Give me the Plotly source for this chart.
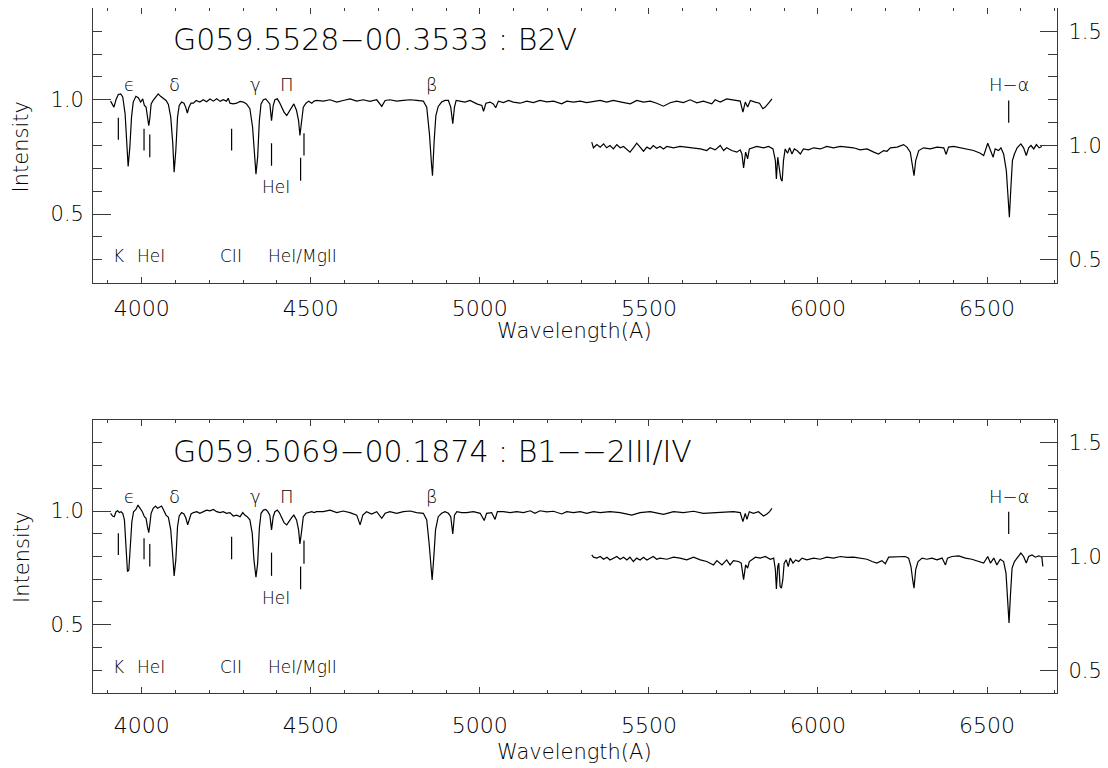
import plotly.graph_objects as go

# ---------------- data ----------------
# Top star: blue spectrum (left axis)
top_blue_wl = [3908, 3914, 3918, 3924, 3931, 3938, 3944, 3951, 3955, 3960,
               3965, 3970, 3975, 3983, 3990, 3997, 4003, 4008, 4013, 4017,
               4021, 4024, 4028, 4034, 4041, 4049, 4056, 4064, 4072, 4079,
               4086, 4092, 4096, 4101, 4106, 4111, 4118, 4125, 4130, 4135,
               4140, 4146, 4153, 4161, 4172, 4182, 4192, 4202, 4212, 4222,
               4232, 4241, 4251, 4256, 4261, 4271, 4281, 4291, 4301, 4310,
               4320, 4328, 4333, 4338, 4343, 4348, 4353, 4360, 4367, 4373,
               4379, 4384, 4389, 4394, 4401, 4407, 4414, 4421, 4429, 4437,
               4444, 4450, 4458, 4464, 4468, 4474, 4478, 4486, 4494, 4503,
               4510, 4517, 4537, 4557, 4577, 4596, 4616, 4636, 4655, 4675,
               4695, 4710, 4720, 4734, 4754, 4774, 4794, 4813, 4833, 4843,
               4851, 4857, 4860, 4865, 4870, 4877, 4887, 4897, 4907, 4914,
               4920, 4925, 4930, 4941, 4956, 4971, 4991, 5006, 5011, 5018,
               5030, 5040, 5047, 5055, 5070, 5085, 5099, 5119, 5139, 5158,
               5178, 5198, 5218, 5242, 5257, 5277, 5297, 5316, 5336, 5356,
               5375, 5395, 5415, 5445, 5464, 5484, 5504, 5523, 5543, 5563,
               5582, 5602, 5622, 5642, 5661, 5686, 5696, 5711, 5730, 5750,
               5770, 5778, 5785, 5792, 5800, 5814, 5827, 5837, 5844, 5854,
               5864]
top_blue_int = [0.994, 0.975, 0.968, 1.000, 1.023, 1.026, 1.012, 0.939, 0.807, 0.708,
                0.792, 0.924, 0.990, 1.015, 1.009, 0.990, 1.004, 0.975, 0.968, 0.931,
                0.887, 0.917, 0.982, 0.997, 1.009, 1.026, 1.015, 1.004, 0.997, 0.980,
                0.924, 0.807, 0.683, 0.778, 0.924, 0.975, 0.990, 0.985, 0.968, 0.942,
                0.968, 0.985, 0.985, 0.997, 0.990, 1.000, 0.991, 1.003, 0.994, 1.004,
                0.993, 1.000, 0.994, 1.007, 0.985, 0.982, 0.985, 0.993, 0.990, 0.982,
                0.961, 0.880, 0.749, 0.675, 0.749, 0.909, 0.982, 1.000, 1.004, 0.994,
                0.982, 0.909, 0.975, 1.000, 1.004, 0.990, 0.968, 0.946, 0.931, 0.953,
                0.968, 0.982, 0.953, 0.909, 0.844, 0.917, 0.968, 0.985, 0.994, 0.985,
                0.994, 0.997, 0.994, 1.000, 0.990, 0.997, 1.004, 0.994, 1.000, 0.993,
                1.000, 0.971, 0.997, 1.000, 0.994, 0.997, 1.000, 0.997, 0.994, 0.968,
                0.851, 0.720, 0.668, 0.822, 0.931, 0.971, 0.990, 0.997, 0.997, 0.968,
                0.895, 0.968, 0.997, 0.994, 0.990, 0.997, 0.982, 0.975, 0.950, 0.985,
                0.990, 0.982, 0.965, 0.994, 0.988, 0.997, 0.990, 0.985, 0.994, 0.988,
                0.997, 0.991, 0.994, 0.982, 0.994, 0.990, 0.994, 0.988, 0.994, 0.997,
                0.990, 0.997, 0.991, 0.982, 0.997, 0.990, 0.994, 0.985, 0.972, 0.987,
                0.994, 0.988, 1.000, 0.987, 0.994, 0.982, 1.000, 0.990, 1.004, 1.000,
                0.994, 0.946, 0.990, 0.968, 0.997, 0.990, 0.985, 0.961, 0.968, 0.985,
                1.004]

# Top star: red spectrum (right axis)
top_red_wl = [5331, 5336, 5346, 5356, 5366, 5375, 5385, 5395, 5405, 5415,
              5425, 5435, 5444, 5454, 5464, 5474, 5484, 5494, 5504, 5513,
              5523, 5533, 5543, 5553, 5573, 5592, 5612, 5632, 5652, 5671,
              5681, 5696, 5711, 5721, 5730, 5745, 5760, 5770, 5775, 5780,
              5786, 5792, 5797, 5819, 5839, 5854, 5867, 5874, 5877, 5881,
              5886, 5890, 5894, 5898, 5903, 5910, 5916, 5923, 5930, 5938,
              5948, 5957, 5972, 5987, 6007, 6026, 6046, 6066, 6086, 6105,
              6125, 6145, 6165, 6179, 6194, 6204, 6214, 6234, 6253, 6263,
              6273, 6279, 6284, 6289, 6298, 6312, 6332, 6352, 6372, 6379,
              6386, 6401, 6421, 6441, 6460, 6480, 6490, 6502, 6510, 6518,
              6524, 6534, 6541, 6549, 6557, 6562, 6566, 6570, 6575, 6581,
              6589, 6600, 6608, 6616, 6623, 6630, 6638, 6646, 6654, 6662]
top_red_int = [1.015, 0.990, 1.004, 0.993, 1.007, 0.990, 1.000, 0.985, 1.004, 0.990,
               0.996, 0.981, 0.971, 0.990, 1.010, 0.993, 0.975, 0.993, 0.985, 1.000,
               0.988, 0.996, 0.985, 0.996, 0.990, 0.996, 0.993, 0.990, 0.985, 0.978,
               0.990, 0.981, 1.000, 0.978, 0.990, 0.978, 0.971, 0.981, 0.963, 0.902,
               0.971, 0.942, 0.985, 0.996, 0.990, 0.996, 0.985, 0.934, 0.854, 0.949,
               0.905, 0.854, 0.844, 0.934, 0.985, 0.966, 0.990, 0.963, 0.985, 0.978,
               0.963, 0.985, 0.981, 0.990, 0.985, 0.996, 0.990, 0.996, 0.993, 0.990,
               0.981, 0.985, 0.971, 0.963, 0.978, 0.975, 0.990, 0.993, 1.004, 0.993,
               0.971, 0.920, 0.868, 0.934, 0.978, 0.990, 0.985, 0.993, 0.990, 0.961,
               0.993, 0.996, 0.990, 0.985, 0.978, 0.966, 0.956, 1.010, 0.978, 0.949,
               0.985, 0.978, 0.990, 0.963, 0.890, 0.759, 0.686, 0.803, 0.934, 0.963,
               0.990, 1.007, 0.990, 0.956, 0.990, 1.000, 0.985, 1.004, 0.990, 0.996]

# Bottom star: blue spectrum (left axis)
bot_blue_wl = [3908, 3914, 3919, 3924, 3929, 3934, 3939, 3944, 3949, 3953,
               3958, 3962, 3966, 3971, 3976, 3983, 3989, 3995, 4002, 4008,
               4013, 4017, 4021, 4024, 4028, 4034, 4041, 4047, 4054, 4059,
               4064, 4072, 4079, 4086, 4092, 4096, 4101, 4106, 4111, 4118,
               4125, 4131, 4136, 4141, 4146, 4153, 4163, 4172, 4182, 4192,
               4202, 4212, 4222, 4232, 4241, 4251, 4261, 4271, 4281, 4291,
               4299, 4305, 4312, 4320, 4327, 4332, 4338, 4343, 4348, 4353,
               4360, 4367, 4373, 4379, 4384, 4389, 4394, 4401, 4407, 4414,
               4421, 4429, 4437, 4444, 4450, 4458, 4464, 4468, 4474, 4478,
               4486, 4494, 4503, 4510, 4517, 4537, 4557, 4577, 4596, 4616,
               4636, 4646, 4654, 4665, 4680, 4695, 4710, 4720, 4734, 4754,
               4774, 4794, 4813, 4833, 4843, 4850, 4855, 4859, 4864, 4869,
               4877, 4887, 4897, 4907, 4914, 4920, 4925, 4932, 4946, 4961,
               4981, 5001, 5013, 5020, 5035, 5045, 5052, 5070, 5090, 5109,
               5129, 5149, 5163, 5178, 5198, 5218, 5242, 5257, 5277, 5297,
               5316, 5336, 5356, 5385, 5415, 5449, 5474, 5504, 5543, 5573,
               5602, 5632, 5661, 5691, 5721, 5750, 5770, 5778, 5785, 5790,
               5797, 5809, 5824, 5839, 5849, 5857, 5864]
bot_blue_int = [0.990, 0.978, 0.975, 0.997, 1.001, 0.993, 0.997, 0.990, 0.961, 0.844,
                0.734, 0.741, 0.844, 0.953, 0.997, 1.007, 1.026, 1.012, 0.997, 0.975,
                0.968, 0.931, 0.905, 0.939, 0.990, 1.012, 1.022, 1.012, 1.019, 1.022,
                1.007, 0.982, 0.972, 0.917, 0.800, 0.715, 0.785, 0.931, 0.978, 0.993,
                0.987, 0.968, 0.939, 0.963, 0.987, 0.993, 0.997, 0.990, 0.997, 1.004,
                1.001, 1.007, 0.997, 0.993, 0.997, 0.990, 0.993, 0.978, 0.982, 0.975,
                0.993, 0.982, 0.975, 0.961, 0.902, 0.785, 0.709, 0.770, 0.924, 0.990,
                1.004, 1.007, 0.997, 0.982, 0.917, 0.975, 0.997, 1.004, 0.993, 0.968,
                0.949, 0.939, 0.958, 0.972, 0.982, 0.961, 0.917, 0.855, 0.924, 0.975,
                0.990, 0.993, 0.997, 0.993, 0.997, 0.997, 1.004, 0.993, 1.000, 0.993,
                0.982, 0.939, 0.982, 0.997, 0.987, 0.997, 0.968, 0.990, 0.997, 0.990,
                0.997, 1.000, 0.993, 0.990, 0.961, 0.858, 0.756, 0.697, 0.800, 0.917,
                0.975, 0.990, 0.997, 0.990, 0.975, 0.899, 0.982, 0.997, 0.993, 0.993,
                0.997, 0.990, 0.958, 0.990, 0.993, 0.963, 0.997, 0.997, 0.993, 0.997,
                0.993, 1.001, 0.990, 1.001, 0.996, 0.999, 0.987, 0.997, 0.993, 0.997,
                0.990, 0.997, 0.993, 0.997, 0.993, 0.982, 0.993, 0.997, 0.985, 0.997,
                0.993, 0.999, 0.990, 0.993, 0.997, 0.997, 0.993, 0.953, 0.990, 0.963,
                0.997, 0.990, 0.997, 0.978, 0.987, 0.997, 1.012]

# Bottom star: red spectrum (right axis)
bot_red_wl = [5331, 5336, 5346, 5356, 5366, 5376, 5385, 5395, 5405, 5415,
              5425, 5435, 5444, 5454, 5464, 5474, 5484, 5494, 5504, 5513,
              5523, 5533, 5553, 5573, 5592, 5612, 5632, 5652, 5671, 5691,
              5701, 5716, 5730, 5740, 5750, 5765, 5773, 5780, 5786, 5792,
              5797, 5815, 5829, 5844, 5859, 5869, 5874, 5877, 5881, 5884,
              5888, 5892, 5896, 5900, 5906, 5912, 5918, 5926, 5934, 5943,
              5953, 5967, 5987, 6007, 6026, 6046, 6066, 6086, 6105, 6125,
              6145, 6160, 6174, 6189, 6199, 6209, 6234, 6258, 6268, 6275,
              6280, 6284, 6289, 6296, 6308, 6322, 6337, 6352, 6367, 6377,
              6383, 6396, 6416, 6436, 6455, 6475, 6490, 6502, 6510, 6520,
              6529, 6539, 6549, 6556, 6561, 6565, 6569, 6574, 6581, 6589,
              6600, 6608, 6616, 6623, 6633, 6643, 6653, 6662, 6665]
bot_red_int = [1.007, 0.997, 0.993, 1.000, 0.988, 0.997, 0.985, 0.993, 1.000, 0.988,
               0.997, 0.985, 0.997, 0.978, 0.993, 0.985, 0.997, 0.985, 0.993, 1.000,
               0.988, 0.993, 0.988, 0.997, 0.993, 0.985, 0.997, 0.985, 0.978, 0.963,
               0.982, 0.963, 0.985, 0.963, 0.982, 0.978, 0.971, 0.898, 0.963, 0.949,
               0.978, 0.997, 0.993, 1.000, 0.988, 0.993, 0.942, 0.857, 0.956, 0.971,
               0.868, 0.861, 0.898, 0.971, 0.985, 0.956, 0.993, 0.971, 0.985, 0.978,
               0.993, 0.985, 0.993, 0.988, 0.997, 0.993, 1.000, 0.996, 0.997, 0.993,
               0.988, 0.978, 0.971, 0.982, 0.968, 0.997, 1.000, 1.000, 0.993, 0.956,
               0.898, 0.861, 0.942, 0.978, 0.993, 0.988, 0.993, 0.985, 0.993, 0.963,
               0.993, 1.000, 1.003, 0.993, 0.988, 0.978, 0.971, 1.000, 0.971, 0.993,
               0.963, 0.988, 0.978, 0.927, 0.810, 0.708, 0.825, 0.949, 0.978, 0.993,
               1.015, 1.000, 0.971, 1.000, 1.007, 0.997, 1.003, 0.997, 0.956]

# Line identification marks (wavelength, top and bottom of the tick, left axis units)
mark_wl = [3931, 4007, 4024, 4266, 4384, 4470, 4480, 6564]
top_mark_hi = [0.921, 0.873, 0.848, 0.873, 0.810, 0.746, 0.854, 0.997]
top_mark_lo = [0.825, 0.778, 0.749, 0.778, 0.712, 0.646, 0.756, 0.899]
bot_mark_hi = [0.902, 0.880, 0.855, 0.887, 0.817, 0.756, 0.870, 0.997]
bot_mark_lo = [0.807, 0.788, 0.756, 0.788, 0.715, 0.656, 0.768, 0.899]

# Balmer labels
balmer_txt = ["ϵ", "δ", "γ", "Π", "β", "H−α"]
balmer_wl = [3963, 4098, 4337, 4429, 4858, 6564]
balmer_y = 1.065

# Element labels
elem_txt = ["K", "HeI", "CII", "HeI/MgII", "HeI"]
elem_wl = [3931, 4027, 4263, 4476, 4397]
elem_y = [0.315, 0.315, 0.315, 0.315, 0.619]

titles = ["G059.5528−00.3533 : B2V", "G059.5069−00.1874 : B1−−2III/IV"]
title_wl = 4088
title_y = 1.262

# ---------------- figure ----------------
FONT = "DejaVu Sans"
W = 200
AX = "#3a3a3a"
XR = [3857, 6707]
# the page adds an 8 px body margin, so the domains are shifted to compensate
XD = [0.0770, 0.9468]
YD_TOP = [0.6423, 0.9996]
YD_BOT = [0.1081, 0.4635]

fig = go.Figure()


def marks(hi, lo):
    xs, ys = [], []
    for w, a, b in zip(mark_wl, hi, lo):
        xs += [w, w, None]
        ys += [a, b, None]
    return xs, ys


panels = [
    ("x", "y", "y2", top_blue_wl, top_blue_int, top_red_wl, top_red_int, top_mark_hi, top_mark_lo),
    ("x2", "y3", "y4", bot_blue_wl, bot_blue_int, bot_red_wl, bot_red_int, bot_mark_hi, bot_mark_lo),
]

line = dict(color="black", width=1.2)
for i, (xa, yl, yr, bw, bi, rw, ri, mh, ml) in enumerate(panels):
    fig.add_trace(go.Scatter(x=bw, y=bi, mode="lines", line=line, xaxis=xa, yaxis=yl, showlegend=False))
    fig.add_trace(go.Scatter(x=rw, y=ri, mode="lines", line=line, xaxis=xa, yaxis=yr, showlegend=False))
    mx, my = marks(mh, ml)
    fig.add_trace(go.Scatter(x=mx, y=my, mode="lines", line=dict(color="black", width=1.2),
                             xaxis=xa, yaxis=yl, showlegend=False))
    for t, w in zip(balmer_txt, balmer_wl):
        fig.add_annotation(x=w, y=balmer_y, text=t, showarrow=False, xref=xa, yref=yl,
                           font=dict(size=18, family=FONT, color="black", weight=W))
    for t, w, yy in zip(elem_txt, elem_wl, elem_y):
        fig.add_annotation(x=w, y=yy, text=t, showarrow=False, xref=xa, yref=yl,
                           font=dict(size=17, family=FONT, color="black", weight=W))
    fig.add_annotation(x=title_wl, y=title_y, text=titles[i], showarrow=False, xref=xa, yref=yl,
                       xanchor="left", yanchor="middle",
                       font=dict(size=30, family=FONT, color="black", weight=W))

TFX = dict(size=22, family=FONT, color="black", weight=W)
TF = dict(size=21, family=FONT, color="black", weight=W)

# axis titles (paper coordinates)
xt_y = [0.5794, 0.0313]
yt_y = [0.8197, 0.2852]
for i in range(2):
    fig.add_annotation(x=0.5117, y=xt_y[i], xref="paper", yref="paper", text="Wavelength(A)",
                       xanchor="center", yanchor="middle", showarrow=False, font=TF)
    fig.add_annotation(x=0.0126, y=yt_y[i], xref="paper", yref="paper", text="Intensity",
                       xanchor="center", yanchor="middle", textangle=-90, showarrow=False, font=TF)

xcommon = dict(range=XR, domain=XD, showline=True, linecolor=AX, linewidth=1.3, mirror="ticks",
               ticks="inside", ticklen=6, tickwidth=1.2, tickcolor=AX, dtick=500, tick0=0,
               minor=dict(dtick=100, tick0=0, ticklen=3, ticks="inside", tickcolor=AX, tickwidth=1.1),
               showgrid=False, zeroline=False, tickfont=TFX, automargin=False)
yleft = dict(range=[0.2, 1.4], showline=True, linecolor=AX, linewidth=1.3, ticks="inside", ticklen=18,
             tickwidth=1.2, tickcolor=AX, dtick=0.5, tick0=0, tickformat=".1f",
             minor=dict(dtick=0.1, tick0=0, ticklen=9, ticks="inside", tickcolor=AX, tickwidth=1.1),
             showgrid=False, zeroline=False, tickfont=TF, automargin=False,
             ticklabelstandoff=4)
yright = dict(range=[0.4, 1.6], showline=True, linecolor=AX, linewidth=1.3, ticks="inside", ticklen=17,
              tickwidth=1.2, tickcolor=AX, dtick=0.5, tick0=0, tickformat=".1f", side="right",
              minor=dict(dtick=0.1, tick0=0, ticklen=9, ticks="inside", tickcolor=AX, tickwidth=1.1),
              showgrid=False, zeroline=False, tickfont=TF, automargin=False,
              ticklabelstandoff=6)

fig.update_layout(
    width=1108, height=768,
    margin=dict(l=0, r=0, t=0, b=0, autoexpand=False),
    paper_bgcolor="white", plot_bgcolor="white",
    font=dict(family=FONT, color="black", weight=W),
    xaxis=dict(anchor="y", ticklabelstandoff=6, **xcommon),
    xaxis2=dict(anchor="y3", ticklabelstandoff=12, **xcommon),
    yaxis=dict(domain=YD_TOP, anchor="x", **yleft),
    yaxis2=dict(overlaying="y", anchor="x", **yright),
    yaxis3=dict(domain=YD_BOT, anchor="x2", **yleft),
    yaxis4=dict(overlaying="y3", anchor="x2", **yright),
    showlegend=False,
)

fig.write_html("out.html")
